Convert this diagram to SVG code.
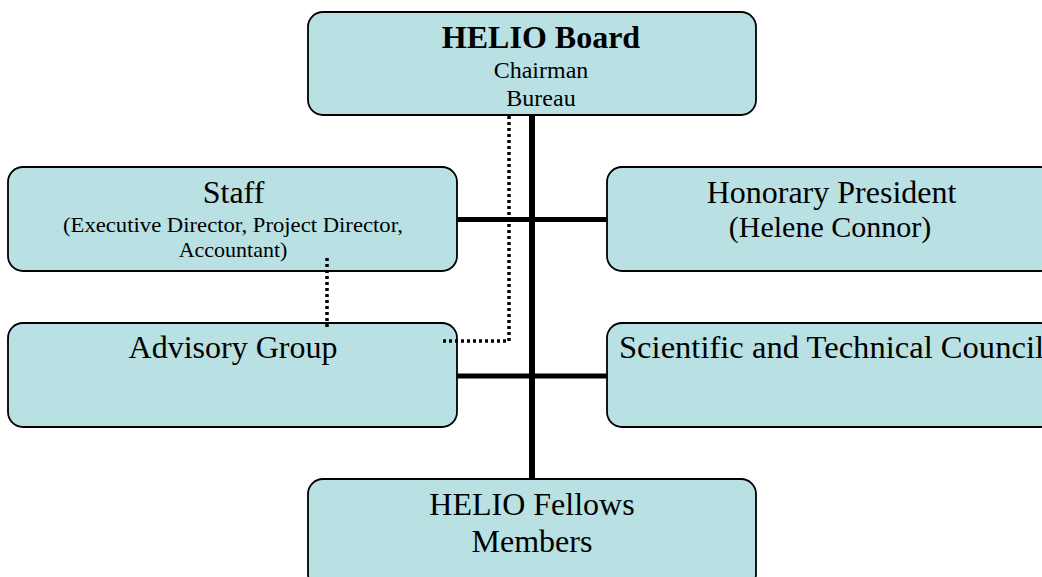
<svg xmlns="http://www.w3.org/2000/svg" width="1042" height="577" viewBox="0 0 1042 577">
<style>
.box{fill:#B9E0E3;stroke:#000;stroke-width:1.8}
text{font-family:"Liberation Serif","Times New Roman",serif;fill:#000;text-anchor:middle}
.big{font-size:32px}
.mid{font-size:24px}
.sm{font-size:22px}
.solid{stroke:#000;fill:none}
.dot{stroke:#000;fill:none;stroke-width:3.5;stroke-dasharray:3 3}
</style>
<rect width="1042" height="577" fill="#fff"/>
<g id="board">
<rect class="box" x="308" y="12" width="448" height="103" rx="15" ry="15"/>
<text x="541" y="48" class="big" font-weight="bold">HELIO Board</text>
<text x="541" y="78" class="mid">Chairman</text>
<text x="541" y="106" class="mid">Bureau</text>
</g>
<g id="staff">
<rect class="box" x="8" y="167" width="449" height="104" rx="15" ry="15"/>
<text x="233.5" y="203" class="big">Staff</text>
<text x="233" y="232" class="sm" textLength="340" lengthAdjust="spacingAndGlyphs">(Executive Director, Project Director,</text>
<text x="233" y="257" class="sm">Accountant)</text>
</g>
<g id="honorary">
<rect class="box" x="607" y="167" width="449" height="104" rx="15" ry="15"/>
<text x="831.5" y="203" class="big">Honorary President</text>
<text x="830" y="237" style="font-size:30px">(Helene Connor)</text>
</g>
<g id="advisory">
<rect class="box" x="8" y="323" width="449" height="104" rx="15" ry="15"/>
<text x="233" y="358" class="big">Advisory Group</text>
</g>
<g id="scientific">
<rect class="box" x="607" y="323" width="449" height="104" rx="15" ry="15"/>
<text x="619" y="358" class="big" style="text-anchor:start" textLength="425" lengthAdjust="spacingAndGlyphs">Scientific and Technical Council</text>
</g>
<g id="fellows">
<rect class="box" x="308" y="479" width="448" height="110" rx="15" ry="15"/>
<text x="532" y="515" class="big">HELIO Fellows</text>
<text x="532" y="552" class="big">Members</text>
</g>
<g id="connectors">
<line class="solid" x1="532" y1="115" x2="532" y2="479" stroke-width="6"/>
<line class="solid" x1="457" y1="219.5" x2="607" y2="219.5" stroke-width="5"/>
<line class="solid" x1="457" y1="376" x2="607" y2="376" stroke-width="5"/>
<path class="dot" d="M509 116 V341 H443"/>
<path class="dot" d="M327 258 V329"/>
</g>
</svg>
